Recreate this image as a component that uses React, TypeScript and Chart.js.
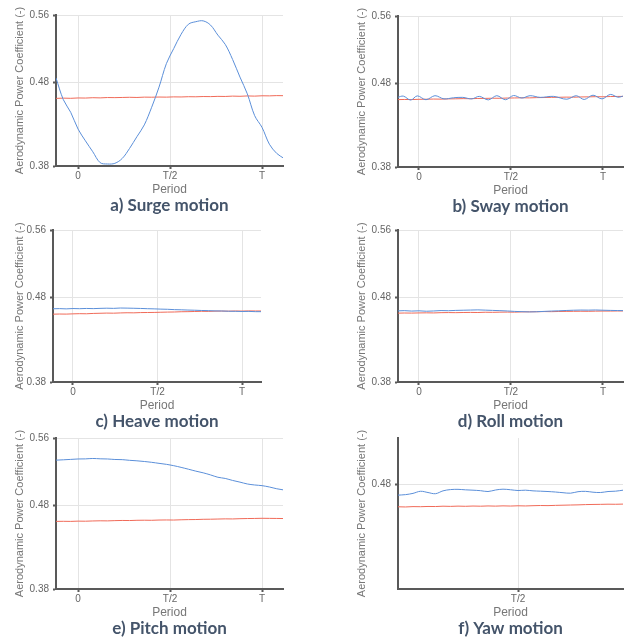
import React, { useEffect, useRef } from 'react';
import { Chart, registerables } from 'chart.js';

Chart.register(...registerables);
Chart.defaults.font.family = 'Arial, "Liberation Sans", sans-serif';

// ---- tick labels ----
const periodTicks = [0, 0.5, 1];
const periodLabels = ['0', 'T/2', 'T'];
const cpTicks = [0.38, 0.48, 0.56];
const yawCpTicks = [0.48];
const yawPeriodTicks = [0.5];

// ---- shared phase (fraction of period T) ----
const phase = [-0.12, -0.08, -0.04, 0, 0.04, 0.08, 0.12, 0.16, 0.2, 0.24, 0.28, 0.32, 0.36, 0.4, 0.44, 0.48,
  0.52, 0.56, 0.6, 0.64, 0.68, 0.72, 0.76, 0.8, 0.84, 0.88, 0.92, 0.96, 1.0, 1.04, 1.08, 1.12];

// ---- a) Surge ----
const surgeFloating = [0.485, 0.459, 0.444, 0.424, 0.410, 0.397, 0.384, 0.3824, 0.3832, 0.389, 0.401, 0.415,
  0.429, 0.450, 0.474, 0.502, 0.520, 0.537, 0.549, 0.552, 0.553, 0.548, 0.536, 0.525, 0.507, 0.486, 0.466,
  0.440, 0.426, 0.406, 0.395, 0.389];
const surgeFixed = [0.4606, 0.4609, 0.4607, 0.4611, 0.4610, 0.4614, 0.4612, 0.4616, 0.4615, 0.4617, 0.4619,
  0.4617, 0.4621, 0.4620, 0.4622, 0.4621, 0.4624, 0.4623, 0.4626, 0.4625, 0.4628, 0.4627, 0.4630, 0.4629,
  0.4633, 0.4631, 0.4635, 0.4633, 0.4637, 0.4636, 0.4639, 0.4638];

// ---- b) Sway ----
const swayPhase = [-0.116, -0.085, -0.045, -0.009, 0.038, 0.087, 0.136, 0.187, 0.238, 0.287, 0.328, 0.377,
  0.423, 0.47, 0.514, 0.559, 0.604, 0.659, 0.731, 0.804, 0.855, 0.898, 0.946, 0.995, 1.04, 1.082, 1.113];
const swayFloating = [0.4630, 0.4645, 0.4598, 0.4648, 0.4602, 0.4650, 0.4612, 0.4625, 0.4630, 0.4612, 0.4642,
  0.4600, 0.4650, 0.4602, 0.4652, 0.4622, 0.4650, 0.4630, 0.4642, 0.4608, 0.4650, 0.4605, 0.4656, 0.4612,
  0.4665, 0.4632, 0.4648];
const swayFixed = [0.4603, 0.4605, 0.4604, 0.4607, 0.4608, 0.4610, 0.4609, 0.4612, 0.4613, 0.4615, 0.4614,
  0.4617, 0.4618, 0.4620, 0.4619, 0.4622, 0.4623, 0.4625, 0.4624, 0.4627, 0.4628, 0.4630, 0.4631, 0.4633,
  0.4632, 0.4635, 0.4636, 0.4638, 0.4637, 0.4640, 0.4641, 0.4642];

// ---- c) Heave ----
const heaveFloating = [0.4667, 0.4669, 0.4666, 0.4670, 0.4668, 0.4671, 0.4669, 0.4672, 0.4674, 0.4672, 0.4676,
  0.4675, 0.4673, 0.4671, 0.4668, 0.4666, 0.4663, 0.4661, 0.4657, 0.4655, 0.4652, 0.4650, 0.4647, 0.4645,
  0.4642, 0.4641, 0.4638, 0.4637, 0.4635, 0.4636, 0.4633, 0.4633];
const heaveFixed = [0.4603, 0.4605, 0.4604, 0.4607, 0.4609, 0.4608, 0.4612, 0.4614, 0.4616, 0.4615, 0.4618,
  0.4620, 0.4619, 0.4622, 0.4623, 0.4624, 0.4626, 0.4628, 0.4629, 0.4632, 0.4633, 0.4635, 0.4637, 0.4636,
  0.4639, 0.4640, 0.4639, 0.4641, 0.4640, 0.4642, 0.4641, 0.4641];

// ---- d) Roll ----
const rollFloating = [0.4642, 0.4645, 0.4640, 0.4643, 0.4638, 0.4641, 0.4646, 0.4644, 0.4648, 0.4650, 0.4652,
  0.4654, 0.4651, 0.4648, 0.4645, 0.4641, 0.4636, 0.4633, 0.4630, 0.4632, 0.4636, 0.4640, 0.4643, 0.4647,
  0.4650, 0.4652, 0.4651, 0.4653, 0.4650, 0.4648, 0.4646, 0.4645];
const rollFixed = [0.4615, 0.4617, 0.4616, 0.4618, 0.4619, 0.4618, 0.4621, 0.4622, 0.4621, 0.4623, 0.4624,
  0.4623, 0.4626, 0.4625, 0.4627, 0.4628, 0.4627, 0.4630, 0.4631, 0.4632, 0.4634, 0.4633, 0.4635, 0.4636,
  0.4637, 0.4638, 0.4637, 0.4639, 0.4640, 0.4640, 0.4641, 0.4641];

// ---- e) Pitch ----
const pitchFloating = [0.5336, 0.5340, 0.5345, 0.5350, 0.5351, 0.5356, 0.5352, 0.5350, 0.5344, 0.5342, 0.5334,
  0.5328, 0.5320, 0.5310, 0.5298, 0.5286, 0.5270, 0.5250, 0.5228, 0.5205, 0.5185, 0.5160, 0.5132, 0.5118,
  0.5094, 0.5074, 0.5052, 0.5040, 0.5032, 0.5016, 0.4995, 0.4980];
const pitchFixed = [0.4606, 0.4607, 0.4606, 0.4609, 0.4608, 0.4611, 0.4613, 0.4612, 0.4615, 0.4617, 0.4616,
  0.4619, 0.4620, 0.4619, 0.4622, 0.4623, 0.4622, 0.4625, 0.4627, 0.4628, 0.4631, 0.4632, 0.4634, 0.4636,
  0.4635, 0.4638, 0.4640, 0.4641, 0.4643, 0.4642, 0.4641, 0.4640];

// ---- f) Yaw ----
const yawPhase = [0.02, 0.05, 0.08, 0.11, 0.14, 0.17, 0.2, 0.23, 0.26, 0.29, 0.32, 0.35, 0.38, 0.41, 0.44, 0.47,
  0.5, 0.53, 0.56, 0.59, 0.62, 0.65, 0.68, 0.71, 0.74, 0.77, 0.8, 0.83, 0.86, 0.89, 0.92];
const yawFloating = [0.4669, 0.4675, 0.4690, 0.4715, 0.4700, 0.4686, 0.4720, 0.4735, 0.4738, 0.4732, 0.4728,
  0.4722, 0.4712, 0.4730, 0.4740, 0.4733, 0.4724, 0.4728, 0.4720, 0.4716, 0.4712, 0.4706, 0.4698, 0.4692,
  0.4710, 0.4714, 0.4704, 0.4700, 0.4712, 0.4716, 0.4728];
const yawFixed = [0.4530, 0.4528, 0.4532, 0.4531, 0.4534, 0.4533, 0.4537, 0.4535, 0.4538, 0.4536, 0.4539,
  0.4537, 0.4540, 0.4538, 0.4541, 0.4539, 0.4542, 0.4540, 0.4543, 0.4545, 0.4544, 0.4547, 0.4549, 0.4551,
  0.4553, 0.4556, 0.4558, 0.4559, 0.4561, 0.4560, 0.4562];

const BLUE = '#5b8fd9';
const RED = '#f06a58';
const AXIS = '#595959';
const GRID = '#e4e4e4';

type PanelCfg = {
  title: string;
  left: number; top: number; width: number; height: number; yW: number;
  xMin: number; xMax: number; yMin: number; yMax: number;
  xTicks: number[]; yTicks: number[];
  bluePhase: number[]; blue: number[]; redPhase: number[]; red: number[];
};

const panels: PanelCfg[] = [
  { title: 'a) Surge motion', left: 0, top: 0, width: 293, height: 216, yW: 56, xMin: -0.12, xMax: 1.114,
    yMin: 0.38, yMax: 0.56, xTicks: periodTicks, yTicks: cpTicks,
    bluePhase: phase, blue: surgeFloating, redPhase: phase, red: surgeFixed },
  { title: 'b) Sway motion', left: 342, top: 1, width: 291, height: 216, yW: 56, xMin: -0.114, xMax: 1.109,
    yMin: 0.38, yMax: 0.56, xTicks: periodTicks, yTicks: cpTicks,
    bluePhase: swayPhase, blue: swayFloating, redPhase: phase, red: swayFixed },
  { title: 'c) Heave motion', left: 0, top: 215, width: 271, height: 217, yW: 53, xMin: -0.118, xMax: 1.112,
    yMin: 0.38, yMax: 0.56, xTicks: periodTicks, yTicks: cpTicks,
    bluePhase: phase, blue: heaveFloating, redPhase: phase, red: heaveFixed },
  { title: 'd) Roll motion', left: 342, top: 215, width: 291, height: 217, yW: 56, xMin: -0.114, xMax: 1.109,
    yMin: 0.38, yMax: 0.56, xTicks: periodTicks, yTicks: cpTicks,
    bluePhase: phase, blue: rollFloating, redPhase: phase, red: rollFixed },
  { title: 'e) Pitch motion', left: 0, top: 423, width: 293, height: 216, yW: 56, xMin: -0.12, xMax: 1.114,
    yMin: 0.38, yMax: 0.56, xTicks: periodTicks, yTicks: cpTicks,
    bluePhase: phase, blue: pitchFloating, redPhase: phase, red: pitchFixed },
  { title: 'f) Yaw motion', left: 342, top: 423, width: 291, height: 216, yW: 56, xMin: 0.02, xMax: 0.92,
    yMin: 0.355, yMax: 0.535, xTicks: yawPeriodTicks, yTicks: yawCpTicks,
    bluePhase: yawPhase, blue: yawFloating, redPhase: yawPhase, red: yawFixed },
];

function Panel({ cfg }: { cfg: PanelCfg }) {
  const ref = useRef<HTMLCanvasElement>(null);
  useEffect(() => {
    const chart = new Chart(ref.current as HTMLCanvasElement, {
      type: 'line',
      data: {
        datasets: [
          {
            data: cfg.bluePhase.map((x, i) => ({ x, y: cfg.blue[i] })),
            borderColor: BLUE, borderWidth: 1, pointRadius: 0, tension: 0.35,
          },
          {
            data: cfg.redPhase.map((x, i) => ({ x, y: cfg.red[i] })),
            borderColor: RED, borderWidth: 1, pointRadius: 0, tension: 0,
          },
        ],
      },
      options: {
        animation: false,
        responsive: false,
        events: [],
        layout: { padding: { top: 15, right: 10, left: 0, bottom: 2 } },
        plugins: {
          legend: { display: false },
          tooltip: { enabled: false },
          title: {
            display: true, text: cfg.title, position: 'bottom', fullSize: false,
            color: '#44546a', padding: 0,
            font: { family: 'Lato', size: 17, weight: 'bold', lineHeight: 1 },
          },
        },
        scales: {
          x: {
            type: 'linear', min: cfg.xMin, max: cfg.xMax,
            afterBuildTicks: (s: any) => { s.ticks = cfg.xTicks.map((v) => ({ value: v })); },
            afterFit: (s: any) => { s.height = 31; },
            ticks: {
              callback: (v: any) => periodLabels[periodTicks.indexOf(Number(v))],
              color: '#666', font: { size: 10 }, padding: 1, maxRotation: 0, autoSkip: false,
            },
            grid: { color: GRID, tickColor: AXIS, tickLength: 3, tickWidth: 2 },
            border: { color: AXIS, width: 2 },
            title: {
              display: true, text: 'Period', color: '#777',
              font: { size: 12, lineHeight: 1 }, padding: { top: 0, bottom: 1 },
            },
          },
          y: {
            type: 'linear', min: cfg.yMin, max: cfg.yMax,
            afterBuildTicks: (s: any) => { s.ticks = cfg.yTicks.map((v) => ({ value: v })); },
            afterFit: (s: any) => { s.width = cfg.yW; },
            ticks: {
              callback: (v: any) => Number(v).toFixed(2),
              color: '#666', font: { size: 10 }, padding: 4, autoSkip: false,
            },
            grid: { color: GRID, tickColor: AXIS, tickLength: 3, tickWidth: 2 },
            border: { color: AXIS, width: 2 },
            title: {
              display: true, text: 'Aerodynamic Power Coefficient (-)', color: '#777',
              font: { size: 11 }, padding: { top: 13.4, bottom: 0 },
            },
          },
        },
      } as any,
    });
    return () => chart.destroy();
  }, [cfg]);
  return (
    <canvas
      ref={ref}
      width={cfg.width}
      height={cfg.height}
      style={{ position: 'absolute', left: cfg.left, top: cfg.top, width: cfg.width, height: cfg.height }}
    />
  );
}

export default function App() {
  return (
    <div style={{ position: 'absolute', left: 0, top: 0, width: 633, height: 642, background: '#fff' }}>
      {panels.map((p) => (
        <Panel key={p.title} cfg={p} />
      ))}
    </div>
  );
}
